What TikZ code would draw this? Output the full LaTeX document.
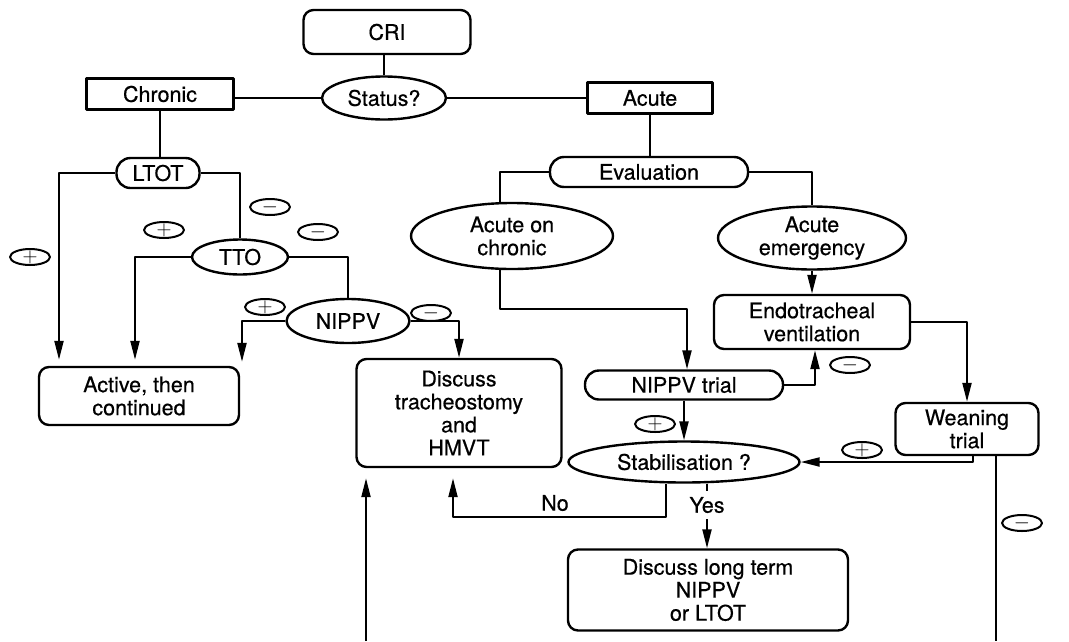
\documentclass[tikz,border=0pt]{standalone}
\usepackage{fontspec}
\setmainfont[FakeBold=0.5]{TeX Gyre Heros}
\usetikzlibrary{shapes.geometric,arrows.meta}
\newcommand{\sgn}[1]{\smash{\raisebox{-5.25pt}{$#1$}}}
\begin{document}
\begin{tikzpicture}[x=1pt,y=-1pt, line width=2.1pt, line join=round,
  every node/.style={font=\fontsize{21.5}{23}\selectfont, align=center, inner sep=0pt},
  rbox/.style={draw, rounded corners=10pt, line width=2.4pt},
  sbox/.style={draw, line width=2.4pt},
  pill/.style={draw, rounded corners=14pt, line width=2.4pt},
  oval/.style={draw, ellipse, line width=2.4pt},
  sign/.style={draw, ellipse, minimum width=40pt, minimum height=16pt, inner sep=0pt, line width=2pt, font=\fontsize{21}{21}\selectfont},
  arr/.style={-{Triangle[length=19pt,width=9pt]}},
]
\useasboundingbox (0,0) rectangle (1069,641);

% nodes
\node[rbox, minimum width=167pt, minimum height=44pt] (cri) at (387,32) {CRI};
\node[oval, minimum width=124pt, minimum height=43pt] (status) at (384,98) {Status?};
\node[sbox, minimum width=147pt, minimum height=31pt] (chronic) at (160,94) {Chronic};
\node[sbox, minimum width=125pt, minimum height=31pt] (acute) at (650,98) {Acute};
\node[pill, minimum width=83pt, minimum height=30pt] (ltot) at (158,173) {LTOT};
\node[oval, minimum width=96pt, minimum height=35pt] (tto) at (240,257) {TTO};
\node[oval, minimum width=123pt, minimum height=44pt] (nippv) at (348,321) {NIPPV};
\node[rbox, minimum width=200pt, minimum height=58pt] (active) at (139,396) {Active, then\\continued};
\node[rbox, minimum width=205pt, minimum height=108pt] (trach) at (459,413) {Discuss\\tracheostomy\\and\\HMVT};
\node[pill, minimum width=198pt, minimum height=30pt] (eval) at (649,172) {Evaluation};
\node[oval, minimum width=202pt, minimum height=66pt] (aoc) at (512,236) {Acute on\\chronic};
\node[oval, minimum width=188pt, minimum height=63pt] (ae) at (812,238) {Acute\\emergency};
\node[rbox, minimum width=196pt, minimum height=54pt] (endo) at (812,322) {Endotracheal\\ventilation};
\node[pill, minimum width=198pt, minimum height=29pt] (trial) at (684,385) {NIPPV trial};
\node[rbox, minimum width=143pt, minimum height=52pt] (wean) at (967,429) {Weaning\\trial};
\node[oval, minimum width=231pt, minimum height=41pt] (stab) at (684,462) {Stabilisation ?};
\node[rbox, minimum width=280pt, minimum height=81pt] (long) at (708,590) {Discuss long term\\NIPPV\\or LTOT};
\node (no) at (555,503) {No};

% sign ovals
\node[sign] (s1) at (270,207) {\sgn{-}};
\node[sign] (s2) at (30,257) {\sgn{+}};
\node[sign] (s3) at (164,230) {\sgn{+}};
\node[sign] (s4) at (318,232) {\sgn{-}};
\node[sign] (s5) at (265,307) {\sgn{+}};
\node[sign] (s6) at (431,313) {\sgn{-}};
\node[sign] (s7) at (850,365) {\sgn{-}};
\node[sign] (s8) at (655,424) {\sgn{+}};
\node[sign] (s9) at (862,450) {\sgn{+}};
\node[sign] (s10) at (1022,523) {\sgn{-}};

% helper coordinates
\coordinate (c1) at (59,0);
\coordinate (c2) at (135,0);
\coordinate (c3) at (242,0);
\coordinate (c5) at (500,0);
\coordinate (k1) at (687,309);
\coordinate (c7) at (815,0);
\coordinate (c8) at (973,0);
\coordinate (c9) at (996,0);
\coordinate (bot1) at (996,641);
\coordinate (c10) at (666,0);
\coordinate (k2) at (453,517);
\coordinate (bot2) at (366,641);
\coordinate (c13) at (707,0);

% connectors
\draw (status.north) -- (status.north |- cri.south);
\draw (status.west) -- (status.west -| chronic.east);
\draw (status.east) -- (status.east -| acute.west);
\draw (chronic.south) -- (chronic.south |- ltot.north);
\draw (acute.south) -- (acute.south |- eval.north);
\draw[arr, shorten >=6pt] (ltot.west) -| (active.north -| c1);
\draw (ltot.east) -| (tto.north);
\draw[arr, shorten >=6pt] (tto.west) -| (active.north -| c2);
\draw (tto.east) -| (nippv.north);
\draw[arr, shorten >=4pt] (nippv.west) -| (active.north -| c3);
\draw[arr] (nippv.east) -| (trach.north);
\draw (eval.west) -| (aoc.north -| c5);
\draw (eval.east) -| (ae.north);
\draw[arr] (ae.south) -- (endo.north);
\draw[arr] (aoc.south -| c5) |- (k1) -- (trial.north -| k1);
\draw[arr] (trial.east) -| (endo.south -| c7);
\draw[arr] (endo.east) -| (wean.north);
\draw[arr] (trial.south) -- (stab.north);
\draw[arr] (wean.south -| c8) |- (stab.east);
\draw (wean.south -| c9) -- (bot1);
\draw[arr, shorten >=10pt] (stab.south -| c10) |- (k2) -- (trach.south -| k2);
\draw[arr, shorten >=10pt] (bot2) -- (trach.south -| bot2);
\draw[arr] (stab.south -| c13) -- node[pos=0.33, fill=white, inner xsep=2pt, inner ysep=6pt] (yes) {Yes} (long.north -| c13);
\end{tikzpicture}
\end{document}
